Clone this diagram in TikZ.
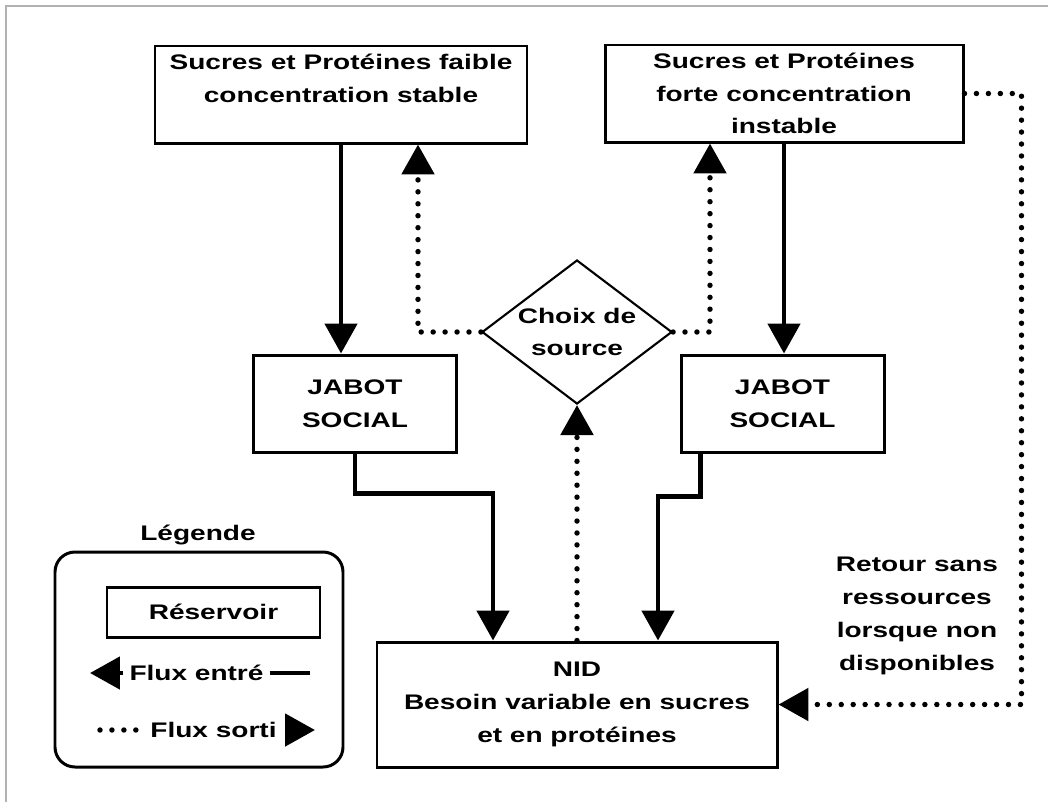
\documentclass[tikz,border=0pt]{standalone}
\usepackage{fontspec}
\setmainfont{Liberation Sans}[FakeStretch=1.33]
\usetikzlibrary{arrows.meta,shapes.geometric,positioning}
\newlength{\px}
\setlength{\px}{0.02cm}
\tikzset{
    reservoir/.style = {draw, rectangle, line width=1.7pt,
        inner sep=0pt, align=center},
    choix/.style = {draw, diamond, aspect=1.32, line width=1.2pt,
        inner sep=0pt, align=center},
    legendbox/.style = {draw, rectangle, rounded corners=0.4cm, line width=1.7pt},
    fluxin/.style = {draw, line width=2.8pt, -{Triangle[length=0.6cm,width=0.64cm]}},
    fluxout/.style = {draw, line width=3.1pt, line cap=round,
        dash pattern=on 0pt off 6.8pt, -{Triangle[length=0.6cm,width=0.64cm]}}
}

\begin{document}
\begin{tikzpicture}[x=0.02cm, y=-0.02cm, every node/.style={font=\bfseries\fontsize{12}{18.7}\selectfont}]
    \useasboundingbox (0,0) rectangle (1048,802);
    \draw[gray!60, line width=1.4pt] (6,802) -- (6,6) -- (1048,6);

    % sources
    \node [reservoir, minimum width=372\px, minimum height=97\px] (src1) at (341,94.5) {};
    \node [align=center, below=3\px of src1.north] (src1txt) {Sucres et Protéines faible\\concentration stable};
    \node [reservoir, minimum width=358\px, minimum height=97\px] (src2) at (784,93.5) {Sucres et Protéines\\forte concentration\\instable};
    \foreach \i/\x in {1/355,2/782.5}{
        \node [reservoir, minimum width=203\px, minimum height=97\px] (jab\i) at (\x,403.5) {JABOT\\SOCIAL};
    }
    \node [choix, minimum width=190\px, minimum height=144\px] (choix) at (577,332) {Choix de\\source};
    \node [reservoir, minimum width=400\px, minimum height=125\px] (nid) at (577,704.5) {NID\\Besoin variable en sucres\\et en protéines};
    \node [align=center] (retour) at (917,616) {Retour sans\\ressources\\lorsque non\\disponibles};

    \draw [fluxin] (src1) -- (src1 |- jab1.north);
    \draw [fluxin] (src2) -- (src2 |- jab2.north);
    \draw [fluxout] (choix.west) -| ([xshift=77\px]src1.south);
    \draw [fluxout] (choix.east) -| ([xshift=-74\px]src2.south);
    \draw [fluxin] (jab1.south) -- ++(0,40) -| ([xshift=-84\px]nid.north);
    \draw [fluxin] ([xshift=-82\px]jab2.south) -- ++(0,43) -| ([xshift=81\px]nid.north);
    \draw [fluxout] (nid) -- (choix);
    \draw [fluxout] (src2.east) -- ++(57,0) |- (nid.east);

    % legende
    \node (legtitre) at (198,535) {Légende};
    \node [legendbox, minimum width=288\px, minimum height=215\px] (legende) at (199,659.5) {};
    \node [reservoir, minimum width=213\px, minimum height=50\px] (legres) at (213.5,612) {Réservoir};
    \node (fe) at (196.5,673) {Flux entré};
    \node (fs) at (213.5,730) {Flux sorti};
    \coordinate (fe-tip) at (90,673);
    \coordinate (fe-end) at (310,673);
    \coordinate (fs-start) at (100,730);
    \coordinate (fs-tip) at (315,730);
    \draw [line width=2.8pt] (fe.east) -- (fe-end);
    \draw [fluxin] (fe.west) -- (fe-tip);
    \draw [fluxout, -] (fs-start) -- (fs.west);
    \draw [fluxin] ([xshift=-30\px]fs-tip) -- (fs-tip);
\end{tikzpicture}
\end{document}
